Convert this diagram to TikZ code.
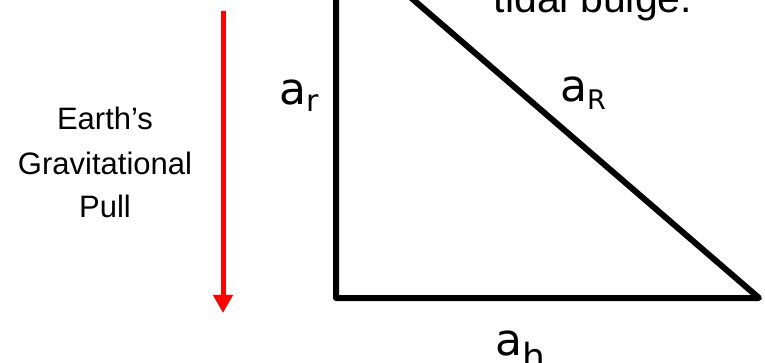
\documentclass[tikz,border=0pt]{standalone}
\usepackage{fontspec}
\setmainfont{Liberation Sans}
\newfontfamily\dvs{DejaVu Sans}
\usetikzlibrary{arrows.meta}
\begin{document}
\begin{tikzpicture}[x=1pt,y=-1pt,
  side/.style={line width=6pt,line join=round,black},
  pull/.style={line width=5pt,red,-{Triangle[width=19pt,length=18pt]}},
  caption/.style={inner sep=0pt,anchor=base,font=\fontsize{31}{31}\selectfont},
  veclabel/.style={inner sep=0pt,anchor=base west,font=\dvs\fontsize{44}{44}\selectfont}]
\useasboundingbox (0,0) rectangle (765,363);
\clip (0,0) rectangle (765,363);
% triangle
\coordinate (apex) at (336,-67);
\coordinate (bl) at (336,298);
\coordinate (br) at (759,298);
\draw[side] (apex) -- (bl) -- (br) -- cycle;
% gravitational pull arrow
\coordinate (gtop) at (223,11);
\coordinate (gbot) at (223,313);
\draw[pull] (gtop) -- (gbot);
% captions
\node[caption] (e1) at (105,130) {Earth’s};
\node[caption] (e2) at (105,175) {Gravitational};
\node[caption] (e3) at (105,218) {Pull};
\node[inner sep=0pt,anchor=base,font=\fontsize{41}{41}\selectfont] (tb) at (593,13) {tidal bulge.};
% vector labels
\node[veclabel] (ar) at (279,105) {a\raisebox{-7pt}{\fontsize{30}{30}\selectfont r}};
\node[veclabel] (aR) at (560,102) {a\raisebox{-8pt}{\fontsize{27}{27}\selectfont R}};
\node[veclabel] (ah) at (495,355) {a\raisebox{-14pt}{\fontsize{36}{36}\selectfont h}};
\end{tikzpicture}
\end{document}
